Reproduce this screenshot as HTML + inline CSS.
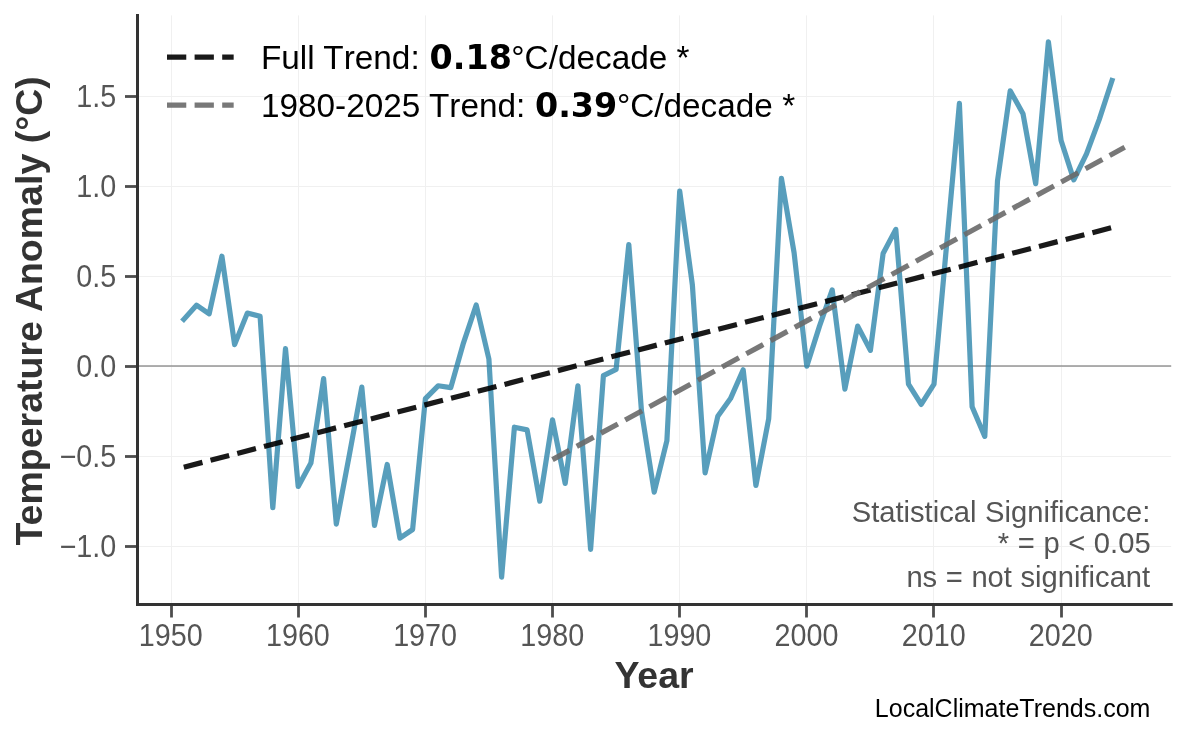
<!DOCTYPE html>
<html lang="en">
<head>
<meta charset="utf-8">
<title>Temperature Anomaly Trend</title>
<style>
html,body{margin:0;padding:0;background:#fff;}
body{width:1186px;height:737px;overflow:hidden;}
svg{display:block;}
text{font-family:"Liberation Sans",Arial,Helvetica,sans-serif;}
.tick text{font-size:29.17px;fill:#555;}
.b{font-family:"DejaVu Sans",sans-serif;font-weight:bold;}
</style>
</head>
<body>
<svg width="1186" height="737" viewBox="0 0 1186 737">
<rect width="1186" height="737" fill="#fff"/>
<g stroke="#f0f0f0" stroke-width="1" fill="none">
<line x1="171.5" y1="15.4" x2="171.5" y2="604.5"/>
<line x1="298.5" y1="15.4" x2="298.5" y2="604.5"/>
<line x1="425.5" y1="15.4" x2="425.5" y2="604.5"/>
<line x1="552.5" y1="15.4" x2="552.5" y2="604.5"/>
<line x1="679.5" y1="15.4" x2="679.5" y2="604.5"/>
<line x1="806.5" y1="15.4" x2="806.5" y2="604.5"/>
<line x1="933.5" y1="15.4" x2="933.5" y2="604.5"/>
<line x1="1061.5" y1="15.4" x2="1061.5" y2="604.5"/>
<line x1="137.5" y1="546.5" x2="1171.2" y2="546.5"/>
<line x1="137.5" y1="456.5" x2="1171.2" y2="456.5"/>
<line x1="137.5" y1="366.5" x2="1171.2" y2="366.5"/>
<line x1="137.5" y1="276.5" x2="1171.2" y2="276.5"/>
<line x1="137.5" y1="186.5" x2="1171.2" y2="186.5"/>
<line x1="137.5" y1="96.5" x2="1171.2" y2="96.5"/>
</g>
<line x1="137.5" y1="366" x2="1171.2" y2="366" stroke="#808080" stroke-opacity="0.62" stroke-width="2"/>
<polyline points="183.8,319.4 196.5,305.2 209.2,313.8 221.9,256.2 234.6,344.6 247.3,313.1 260.1,316.3 272.8,507.7 285.5,348.7 298.2,486.4 310.9,463.0 323.6,378.6 336.3,524.1 349.1,456.2 361.8,387.1 374.5,525.5 387.2,464.5 399.9,538.1 412.6,529.5 425.4,398.6 438.1,385.8 450.8,387.6 463.5,342.8 476.2,305.0 488.9,359.0 501.6,577.2 514.4,427.2 527.1,429.9 539.8,501.2 552.5,419.8 565.2,483.4 577.9,385.8 590.6,549.4 603.4,375.6 616.1,369.4 628.8,244.5 641.5,411.2 654.2,492.2 666.9,440.7 679.7,191.2 692.4,285.2 705.1,472.9 717.8,416.2 730.5,398.6 743.2,369.8 755.9,485.5 768.7,418.8 781.4,178.3 794.1,252.8 806.8,366.2 819.5,326.1 832.2,289.9 844.9,389.1 857.7,326.1 870.4,350.4 883.1,253.5 895.8,229.4 908.5,384.2 921.2,404.4 934.0,384.2 946.7,243.8 959.4,103.4 972.1,406.7 984.8,436.4 997.5,180.8 1010.2,90.8 1023.0,113.7 1035.7,183.7 1048.4,41.8 1061.1,140.5 1073.8,179.9 1086.5,153.8 1099.2,119.6 1112.0,80.5" fill="none" stroke="#2E86AB" stroke-opacity="0.8" stroke-width="5.2" stroke-linejoin="round" stroke-linecap="square"/>
<line x1="183.8" y1="467.2" x2="1112.0" y2="227.6" stroke="#000" stroke-opacity="0.9" stroke-width="5.2" stroke-dasharray="19.27 8.33"/>
<line x1="552.5" y1="459.6" x2="1124.7" y2="147.3" stroke="#696969" stroke-opacity="0.9" stroke-width="5.2" stroke-dasharray="19.27 8.33"/>
<g stroke="#4d4d4d" stroke-width="2.8">
<line x1="171.5" y1="604.5" x2="171.5" y2="617.5"/>
<line x1="298.5" y1="604.5" x2="298.5" y2="617.5"/>
<line x1="425.5" y1="604.5" x2="425.5" y2="617.5"/>
<line x1="552.5" y1="604.5" x2="552.5" y2="617.5"/>
<line x1="679.5" y1="604.5" x2="679.5" y2="617.5"/>
<line x1="806.5" y1="604.5" x2="806.5" y2="617.5"/>
<line x1="933.5" y1="604.5" x2="933.5" y2="617.5"/>
<line x1="1061.5" y1="604.5" x2="1061.5" y2="617.5"/>
<line x1="125.0" y1="546.5" x2="137.5" y2="546.5"/>
<line x1="125.0" y1="456.5" x2="137.5" y2="456.5"/>
<line x1="125.0" y1="366.5" x2="137.5" y2="366.5"/>
<line x1="125.0" y1="276.5" x2="137.5" y2="276.5"/>
<line x1="125.0" y1="186.5" x2="137.5" y2="186.5"/>
<line x1="125.0" y1="96.5" x2="137.5" y2="96.5"/>
</g>
<g stroke="#333" stroke-width="3" stroke-linecap="square">
<line x1="137.5" y1="15.4" x2="137.5" y2="604.5"/>
<line x1="137.5" y1="604.5" x2="1171.2" y2="604.5"/>
</g>
<g class="tick">
<text transform="translate(170.8 646) scale(0.985 1.07)" text-anchor="middle">1950</text>
<text transform="translate(297.9 646) scale(0.985 1.07)" text-anchor="middle">1960</text>
<text transform="translate(425.1 646) scale(0.985 1.07)" text-anchor="middle">1970</text>
<text transform="translate(552.2 646) scale(0.985 1.07)" text-anchor="middle">1980</text>
<text transform="translate(679.4 646) scale(0.985 1.07)" text-anchor="middle">1990</text>
<text transform="translate(806.5 646) scale(0.985 1.07)" text-anchor="middle">2000</text>
<text transform="translate(933.7 646) scale(0.985 1.07)" text-anchor="middle">2010</text>
<text transform="translate(1060.8 646) scale(0.985 1.07)" text-anchor="middle">2020</text>
<text transform="translate(116.2 557.0) scale(0.985 1.07)" text-anchor="end">−1.0</text>
<text transform="translate(116.2 467.0) scale(0.985 1.07)" text-anchor="end">−0.5</text>
<text transform="translate(116.2 377.0) scale(0.985 1.07)" text-anchor="end">0.0</text>
<text transform="translate(116.2 287.0) scale(0.985 1.07)" text-anchor="end">0.5</text>
<text transform="translate(116.2 197.0) scale(0.985 1.07)" text-anchor="end">1.0</text>
<text transform="translate(116.2 107.0) scale(0.985 1.07)" text-anchor="end">1.5</text>
</g>
<text x="654.0" y="687.7" text-anchor="middle" font-size="37.5" font-weight="bold" fill="#333">Year</text>
<text transform="translate(42 310.9) rotate(-90)" text-anchor="middle" font-size="37.5" font-weight="bold" fill="#333">Temperature Anomaly (°C)</text>
<line x1="167" y1="57.2" x2="233.67" y2="57.2" stroke="#000" stroke-opacity="0.9" stroke-width="5.2" stroke-dasharray="19.27 8.33"/>
<line x1="167" y1="105.2" x2="233.67" y2="105.2" stroke="#696969" stroke-opacity="0.9" stroke-width="5.2" stroke-dasharray="19.27 8.33"/>
<text x="260.9" y="68.6" font-size="33.33" fill="#000">Full T<tspan dx="1.3">rend: </tspan><tspan class="b" x="429.6">0.18</tspan><tspan x="511.3">°C/decade *</tspan></text>
<text x="260.9" y="116.6" font-size="33.33" fill="#000">1980-2025 T<tspan dx="1.3">rend: </tspan><tspan class="b" x="535">0.39</tspan><tspan x="616.9">°C/decade *</tspan></text>
<g font-size="29.17" fill="#555" text-anchor="end" word-spacing="0.5">
<text x="1150.4" y="521.6">Statistical Significance:</text>
<text x="1150.6" y="553.4">* = p &lt; 0.05</text>
<text x="1150.2" y="586.5">ns = not significant</text>
</g>
<text x="1150.4" y="717.4" text-anchor="end" font-size="25" fill="#000">LocalClimateTrends.com</text>
</svg>
</body>
</html>
